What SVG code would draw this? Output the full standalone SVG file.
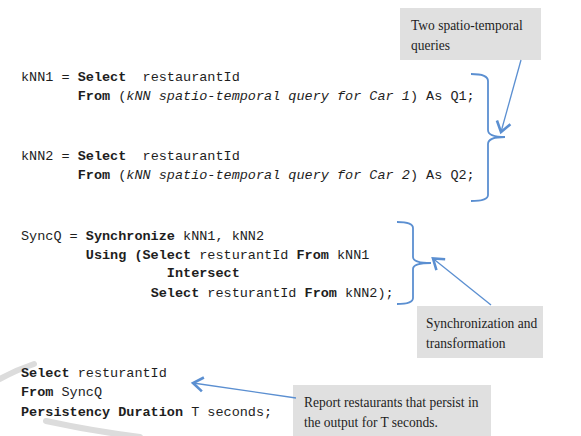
<svg xmlns="http://www.w3.org/2000/svg" width="581" height="436" viewBox="0 0 581 436">
<style>
.code{font-family:"Liberation Mono","Courier New",monospace;font-size:13.5px;fill:#1e1e1e;white-space:pre}
.b{font-weight:bold}
.i{font-style:italic}
.note{font-family:"Liberation Serif","Times New Roman",serif;font-size:15px;fill:#1e1e1e}
.box{fill:#e0e0e0}
.br{fill:none;stroke:#5b8fd1;stroke-width:1.8}
.ar{fill:none;stroke:#5b8fd1;stroke-width:1.3}
.wm{fill:none;stroke:#dcdcdc;stroke-width:6;stroke-linecap:round}
</style>
<defs>
<marker id="ah" markerUnits="userSpaceOnUse" markerWidth="20" markerHeight="20" viewBox="-14 -10 18 20" refX="0" refY="0" orient="auto">
<path d="M-10,-7 L0,0 L-10,7" fill="none" stroke="#5b8fd1" stroke-width="2.6"/>
</marker>
</defs>
<rect width="581" height="436" fill="#ffffff"/>
<g id="watermark">
<path class="wm" d="M0,379 Q16,370 34,364"/>
<path class="wm" d="M46,421 Q92,431 140,437"/>
</g>
<g id="knn1">
<text class="code" xml:space="preserve" x="21" y="81">kNN1 = <tspan class="b">Select</tspan>  restaurantId</text>
<text class="code" xml:space="preserve" x="21" y="100">       <tspan class="b">From</tspan> (<tspan class="i">kNN spatio-temporal query for Car 1</tspan>) As Q1;</text>
</g>
<g id="knn2">
<text class="code" xml:space="preserve" x="21" y="160">kNN2 = <tspan class="b">Select</tspan>  restaurantId</text>
<text class="code" xml:space="preserve" x="21" y="179">       <tspan class="b">From</tspan> (<tspan class="i">kNN spatio-temporal query for Car 2</tspan>) As Q2;</text>
</g>
<g id="syncq">
<text class="code" xml:space="preserve" x="21" y="240">SyncQ = <tspan class="b">Synchronize</tspan> kNN1, kNN2</text>
<text class="code" xml:space="preserve" x="21" y="258.5">        <tspan class="b">Using (Select</tspan> resturantId <tspan class="b">From</tspan> kNN1</text>
<text class="code" xml:space="preserve" x="21" y="277">                  <tspan class="b">Intersect</tspan></text>
<text class="code" xml:space="preserve" x="21" y="296.5">                <tspan class="b">Select</tspan> resturantId <tspan class="b">From</tspan> kNN2);</text>
</g>
<g id="final">
<text class="code" xml:space="preserve" x="21" y="377"><tspan class="b">Select</tspan> resturantId</text>
<text class="code" xml:space="preserve" x="21" y="396"><tspan class="b">From</tspan> SyncQ</text>
<text class="code" xml:space="preserve" x="21" y="416"><tspan class="b">Persistency Duration</tspan> T seconds;</text>
</g>
<g id="note1">
<rect class="box" x="400" y="8" width="141" height="52"/>
<text class="note" transform="translate(411,29.5) scale(0.9,1)">Two spatio-temporal</text>
<text class="note" transform="translate(411,49.5) scale(0.9,1)">queries</text>
</g>
<g id="note2">
<rect class="box" x="417" y="306" width="126" height="52"/>
<text class="note" transform="translate(426,327.5) scale(0.9,1)">Synchronization and</text>
<text class="note" transform="translate(426,347.5) scale(0.9,1)">transformation</text>
</g>
<g id="note3">
<rect class="box" x="293" y="385" width="198" height="55"/>
<text class="note" transform="translate(304,406.5) scale(0.9,1)">Report restaurants that persist in</text>
<text class="note" transform="translate(304,427) scale(0.9,1)">the output for T seconds.</text>
</g>
<g id="connectors">
<path class="br" d="M471,74 Q488,74 488,81 L488,130 Q488,137 505,137 Q488,137 488,144 L488,195 Q488,201 471,201"/>
<path class="br" d="M397,222 Q413,222 413,228 L413,257 Q413,263 431,263 Q413,263 413,269 L413,298 Q413,304 397,304"/>
<line class="ar" x1="521" y1="60" x2="501" y2="132" marker-end="url(#ah)"/>
<line class="ar" x1="491" y1="305" x2="433" y2="258.5" marker-end="url(#ah)"/>
<line class="ar" x1="296" y1="398" x2="193" y2="383" marker-end="url(#ah)"/>
</g>
</svg>
